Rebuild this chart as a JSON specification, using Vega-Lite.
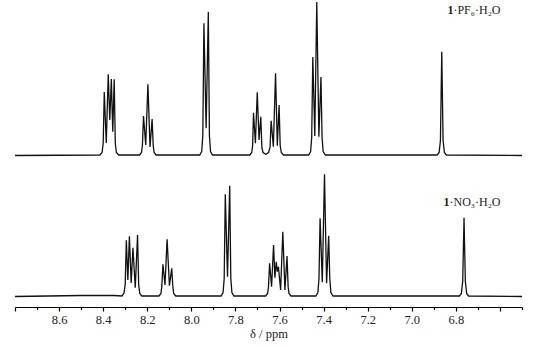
{
  "$schema": "https://vega.github.io/schema/vega-lite/v6.json",
  "width": 507,
  "height": 307,
  "autosize": "none",
  "padding": {"left": 15, "top": 0, "right": 13, "bottom": 40},
  "background": "white",
  "config": {"view": {"stroke": null}, "font": "Liberation Serif"},
  "datasets": {
    "spectra": [
      {"spectrum": "top", "ppm": 8.8, "intensity": 141},
      {"spectrum": "top", "ppm": 8.415, "intensity": 141.5},
      {"spectrum": "top", "ppm": 8.405, "intensity": 144},
      {"spectrum": "top", "ppm": 8.4, "intensity": 153},
      {"spectrum": "top", "ppm": 8.395, "intensity": 204.5},
      {"spectrum": "top", "ppm": 8.386, "intensity": 153.5},
      {"spectrum": "top", "ppm": 8.377, "intensity": 222.2},
      {"spectrum": "top", "ppm": 8.37, "intensity": 176.5},
      {"spectrum": "top", "ppm": 8.363, "intensity": 217.5},
      {"spectrum": "top", "ppm": 8.3565, "intensity": 164.8},
      {"spectrum": "top", "ppm": 8.35, "intensity": 217.2},
      {"spectrum": "top", "ppm": 8.345, "intensity": 153},
      {"spectrum": "top", "ppm": 8.34, "intensity": 144},
      {"spectrum": "top", "ppm": 8.33, "intensity": 141.5},
      {"spectrum": "top", "ppm": 8.235, "intensity": 141.5},
      {"spectrum": "top", "ppm": 8.226, "intensity": 144},
      {"spectrum": "top", "ppm": 8.222, "intensity": 151},
      {"spectrum": "top", "ppm": 8.217, "intensity": 180.5},
      {"spectrum": "top", "ppm": 8.207, "intensity": 151.5},
      {"spectrum": "top", "ppm": 8.197, "intensity": 212.2},
      {"spectrum": "top", "ppm": 8.1875, "intensity": 149.5},
      {"spectrum": "top", "ppm": 8.178, "intensity": 177.5},
      {"spectrum": "top", "ppm": 8.173, "intensity": 151},
      {"spectrum": "top", "ppm": 8.169, "intensity": 144},
      {"spectrum": "top", "ppm": 8.16, "intensity": 141.5},
      {"spectrum": "top", "ppm": 7.962, "intensity": 141.5},
      {"spectrum": "top", "ppm": 7.953, "intensity": 145},
      {"spectrum": "top", "ppm": 7.948, "intensity": 161},
      {"spectrum": "top", "ppm": 7.943, "intensity": 273.2},
      {"spectrum": "top", "ppm": 7.933, "intensity": 168.2},
      {"spectrum": "top", "ppm": 7.923, "intensity": 284.5},
      {"spectrum": "top", "ppm": 7.918, "intensity": 161},
      {"spectrum": "top", "ppm": 7.913, "intensity": 145},
      {"spectrum": "top", "ppm": 7.904, "intensity": 141.5},
      {"spectrum": "top", "ppm": 7.735, "intensity": 141.5},
      {"spectrum": "top", "ppm": 7.726, "intensity": 144},
      {"spectrum": "top", "ppm": 7.722, "intensity": 151},
      {"spectrum": "top", "ppm": 7.718, "intensity": 183.8},
      {"spectrum": "top", "ppm": 7.7095, "intensity": 153.2},
      {"spectrum": "top", "ppm": 7.701, "intensity": 204.2},
      {"spectrum": "top", "ppm": 7.693, "intensity": 156.5},
      {"spectrum": "top", "ppm": 7.685, "intensity": 179.8},
      {"spectrum": "top", "ppm": 7.68, "intensity": 149},
      {"spectrum": "top", "ppm": 7.675, "intensity": 144},
      {"spectrum": "top", "ppm": 7.662, "intensity": 142.2},
      {"spectrum": "top", "ppm": 7.65, "intensity": 144},
      {"spectrum": "top", "ppm": 7.643, "intensity": 149},
      {"spectrum": "top", "ppm": 7.638, "intensity": 175.8},
      {"spectrum": "top", "ppm": 7.628, "intensity": 149.8},
      {"spectrum": "top", "ppm": 7.618, "intensity": 223.2},
      {"spectrum": "top", "ppm": 7.61, "intensity": 150.8},
      {"spectrum": "top", "ppm": 7.602, "intensity": 191.5},
      {"spectrum": "top", "ppm": 7.597, "intensity": 151},
      {"spectrum": "top", "ppm": 7.592, "intensity": 144},
      {"spectrum": "top", "ppm": 7.582, "intensity": 141.5},
      {"spectrum": "top", "ppm": 7.468, "intensity": 141.5},
      {"spectrum": "top", "ppm": 7.459, "intensity": 145},
      {"spectrum": "top", "ppm": 7.454, "intensity": 159},
      {"spectrum": "top", "ppm": 7.449, "intensity": 239.5},
      {"spectrum": "top", "ppm": 7.44, "intensity": 160.5},
      {"spectrum": "top", "ppm": 7.431, "intensity": 294.5},
      {"spectrum": "top", "ppm": 7.4215, "intensity": 159.8},
      {"spectrum": "top", "ppm": 7.412, "intensity": 219.5},
      {"spectrum": "top", "ppm": 7.407, "intensity": 159},
      {"spectrum": "top", "ppm": 7.402, "intensity": 145},
      {"spectrum": "top", "ppm": 7.392, "intensity": 141.5},
      {"spectrum": "top", "ppm": 6.885, "intensity": 141.5},
      {"spectrum": "top", "ppm": 6.876, "intensity": 144},
      {"spectrum": "top", "ppm": 6.87, "intensity": 156},
      {"spectrum": "top", "ppm": 6.864, "intensity": 244.8},
      {"spectrum": "top", "ppm": 6.858, "intensity": 156},
      {"spectrum": "top", "ppm": 6.852, "intensity": 144},
      {"spectrum": "top", "ppm": 6.843, "intensity": 141.5},
      {"spectrum": "top", "ppm": 6.5, "intensity": 141},
      {"spectrum": "bottom", "ppm": 8.8, "intensity": 0},
      {"spectrum": "bottom", "ppm": 8.5, "intensity": 1},
      {"spectrum": "bottom", "ppm": 8.35, "intensity": 1},
      {"spectrum": "bottom", "ppm": 8.315, "intensity": 0.5},
      {"spectrum": "bottom", "ppm": 8.306, "intensity": 3},
      {"spectrum": "bottom", "ppm": 8.3, "intensity": 12},
      {"spectrum": "bottom", "ppm": 8.295, "intensity": 56.2},
      {"spectrum": "bottom", "ppm": 8.288, "intensity": 16.5},
      {"spectrum": "bottom", "ppm": 8.281, "intensity": 60.2},
      {"spectrum": "bottom", "ppm": 8.273, "intensity": 13.5},
      {"spectrum": "bottom", "ppm": 8.265, "intensity": 48.8},
      {"spectrum": "bottom", "ppm": 8.2545, "intensity": 8.8},
      {"spectrum": "bottom", "ppm": 8.244, "intensity": 61.5},
      {"spectrum": "bottom", "ppm": 8.239, "intensity": 12},
      {"spectrum": "bottom", "ppm": 8.234, "intensity": 3},
      {"spectrum": "bottom", "ppm": 8.225, "intensity": 0.5},
      {"spectrum": "bottom", "ppm": 8.147, "intensity": 0.5},
      {"spectrum": "bottom", "ppm": 8.138, "intensity": 3},
      {"spectrum": "bottom", "ppm": 8.134, "intensity": 10},
      {"spectrum": "bottom", "ppm": 8.129, "intensity": 32.2},
      {"spectrum": "bottom", "ppm": 8.1195, "intensity": 11.5},
      {"spectrum": "bottom", "ppm": 8.11, "intensity": 57.2},
      {"spectrum": "bottom", "ppm": 8.0995, "intensity": 10.8},
      {"spectrum": "bottom", "ppm": 8.089, "intensity": 28.2},
      {"spectrum": "bottom", "ppm": 8.084, "intensity": 10},
      {"spectrum": "bottom", "ppm": 8.08, "intensity": 3},
      {"spectrum": "bottom", "ppm": 8.071, "intensity": 0.5},
      {"spectrum": "bottom", "ppm": 7.865, "intensity": 0.5},
      {"spectrum": "bottom", "ppm": 7.856, "intensity": 4},
      {"spectrum": "bottom", "ppm": 7.851, "intensity": 18},
      {"spectrum": "bottom", "ppm": 7.846, "intensity": 102.2},
      {"spectrum": "bottom", "ppm": 7.836, "intensity": 19.8},
      {"spectrum": "bottom", "ppm": 7.826, "intensity": 110.8},
      {"spectrum": "bottom", "ppm": 7.821, "intensity": 18},
      {"spectrum": "bottom", "ppm": 7.816, "intensity": 4},
      {"spectrum": "bottom", "ppm": 7.807, "intensity": 0.5},
      {"spectrum": "bottom", "ppm": 7.663, "intensity": 0.5},
      {"spectrum": "bottom", "ppm": 7.654, "intensity": 3},
      {"spectrum": "bottom", "ppm": 7.65, "intensity": 10},
      {"spectrum": "bottom", "ppm": 7.645, "intensity": 33.2},
      {"spectrum": "bottom", "ppm": 7.636, "intensity": 9.8},
      {"spectrum": "bottom", "ppm": 7.627, "intensity": 51.5},
      {"spectrum": "bottom", "ppm": 7.621, "intensity": 18.8},
      {"spectrum": "bottom", "ppm": 7.615, "intensity": 34.8},
      {"spectrum": "bottom", "ppm": 7.61, "intensity": 24.8},
      {"spectrum": "bottom", "ppm": 7.605, "intensity": 29.8},
      {"spectrum": "bottom", "ppm": 7.595, "intensity": 6.5},
      {"spectrum": "bottom", "ppm": 7.585, "intensity": 64.8},
      {"spectrum": "bottom", "ppm": 7.5755, "intensity": 6.5},
      {"spectrum": "bottom", "ppm": 7.566, "intensity": 40.5},
      {"spectrum": "bottom", "ppm": 7.561, "intensity": 10},
      {"spectrum": "bottom", "ppm": 7.557, "intensity": 3},
      {"spectrum": "bottom", "ppm": 7.548, "intensity": 0.5},
      {"spectrum": "bottom", "ppm": 7.435, "intensity": 0.5},
      {"spectrum": "bottom", "ppm": 7.426, "intensity": 4},
      {"spectrum": "bottom", "ppm": 7.421, "intensity": 18},
      {"spectrum": "bottom", "ppm": 7.416, "intensity": 78.2},
      {"spectrum": "bottom", "ppm": 7.406, "intensity": 14.2},
      {"spectrum": "bottom", "ppm": 7.396, "intensity": 122.2},
      {"spectrum": "bottom", "ppm": 7.3865, "intensity": 13.2},
      {"spectrum": "bottom", "ppm": 7.377, "intensity": 60.8},
      {"spectrum": "bottom", "ppm": 7.372, "intensity": 18},
      {"spectrum": "bottom", "ppm": 7.367, "intensity": 4},
      {"spectrum": "bottom", "ppm": 7.357, "intensity": 0.5},
      {"spectrum": "bottom", "ppm": 6.784, "intensity": 0.5},
      {"spectrum": "bottom", "ppm": 6.775, "intensity": 3},
      {"spectrum": "bottom", "ppm": 6.769, "intensity": 15},
      {"spectrum": "bottom", "ppm": 6.763, "intensity": 78.8},
      {"spectrum": "bottom", "ppm": 6.757, "intensity": 15},
      {"spectrum": "bottom", "ppm": 6.751, "intensity": 3},
      {"spectrum": "bottom", "ppm": 6.742, "intensity": 0.5},
      {"spectrum": "bottom", "ppm": 6.5, "intensity": 0}
    ],
    "labels": [
      {"part": "bold", "ppm": 6.811, "intensity": 286.5, "text": "1"},
      {"part": "rest", "ppm": 6.811, "intensity": 286.5, "text": "·PF₆·H₂O"},
      {"part": "bold", "ppm": 6.829, "intensity": 94.8, "text": "1"},
      {"part": "rest", "ppm": 6.829, "intensity": 94.8, "text": "·NO₃·H₂O"}
    ]
  },
  "encoding": {
    "x": {
      "field": "ppm",
      "type": "quantitative",
      "scale": {"domain": [8.8, 6.5], "nice": false, "zero": false},
      "axis": {
        "values": [8.8, 8.7, 8.6, 8.5, 8.4, 8.3, 8.2, 8.1, 8.0, 7.9, 7.8, 7.7, 7.6, 7.5, 7.4, 7.3, 7.2, 7.1, 7.0, 6.9, 6.8, 6.7, 6.6, 6.5],
        "labelExpr": "round(datum.value*10)%2==0 && datum.value<8.75 && datum.value>6.65 ? format(datum.value,'.1f') : ''",
        "tickSize": {"condition": {"test": "round(datum.value*10)%2==0", "value": 4}, "value": 2.5},
        "grid": false,
        "domainColor": "black",
        "domainWidth": 1.2,
        "tickColor": "black",
        "tickWidth": 1.2,
        "labelFont": "Liberation Serif",
        "labelFontSize": 12.5,
        "labelColor": "#222",
        "labelPadding": 2,
        "labelFlush": false,
        "labelOverlap": false,
        "title": "δ / ppm",
        "titleFont": "Liberation Serif",
        "titleFontSize": 12.5,
        "titleFontWeight": "normal",
        "titleColor": "#222",
        "titlePadding": 2
      }
    },
    "y": {
      "field": "intensity",
      "type": "quantitative",
      "scale": {"domain": [-10.5, 296.5], "nice": false, "zero": false},
      "axis": null
    }
  },
  "layer": [
    {
      "data": {"name": "spectra"},
      "mark": {"type": "line", "color": "#111", "strokeWidth": 1.3},
      "encoding": {"detail": {"field": "spectrum"}}
    },
    {
      "data": {"name": "labels"},
      "transform": [{"filter": "datum.part == 'bold'"}],
      "mark": {"type": "text", "font": "Liberation Serif", "fontSize": 12, "fontWeight": "bold", "align": "right", "baseline": "middle", "color": "#222"},
      "encoding": {"text": {"field": "text"}}
    },
    {
      "data": {"name": "labels"},
      "transform": [{"filter": "datum.part == 'rest'"}],
      "mark": {"type": "text", "font": "Liberation Serif", "fontSize": 12, "align": "left", "baseline": "middle", "color": "#222"},
      "encoding": {"text": {"field": "text"}}
    }
  ]
}
